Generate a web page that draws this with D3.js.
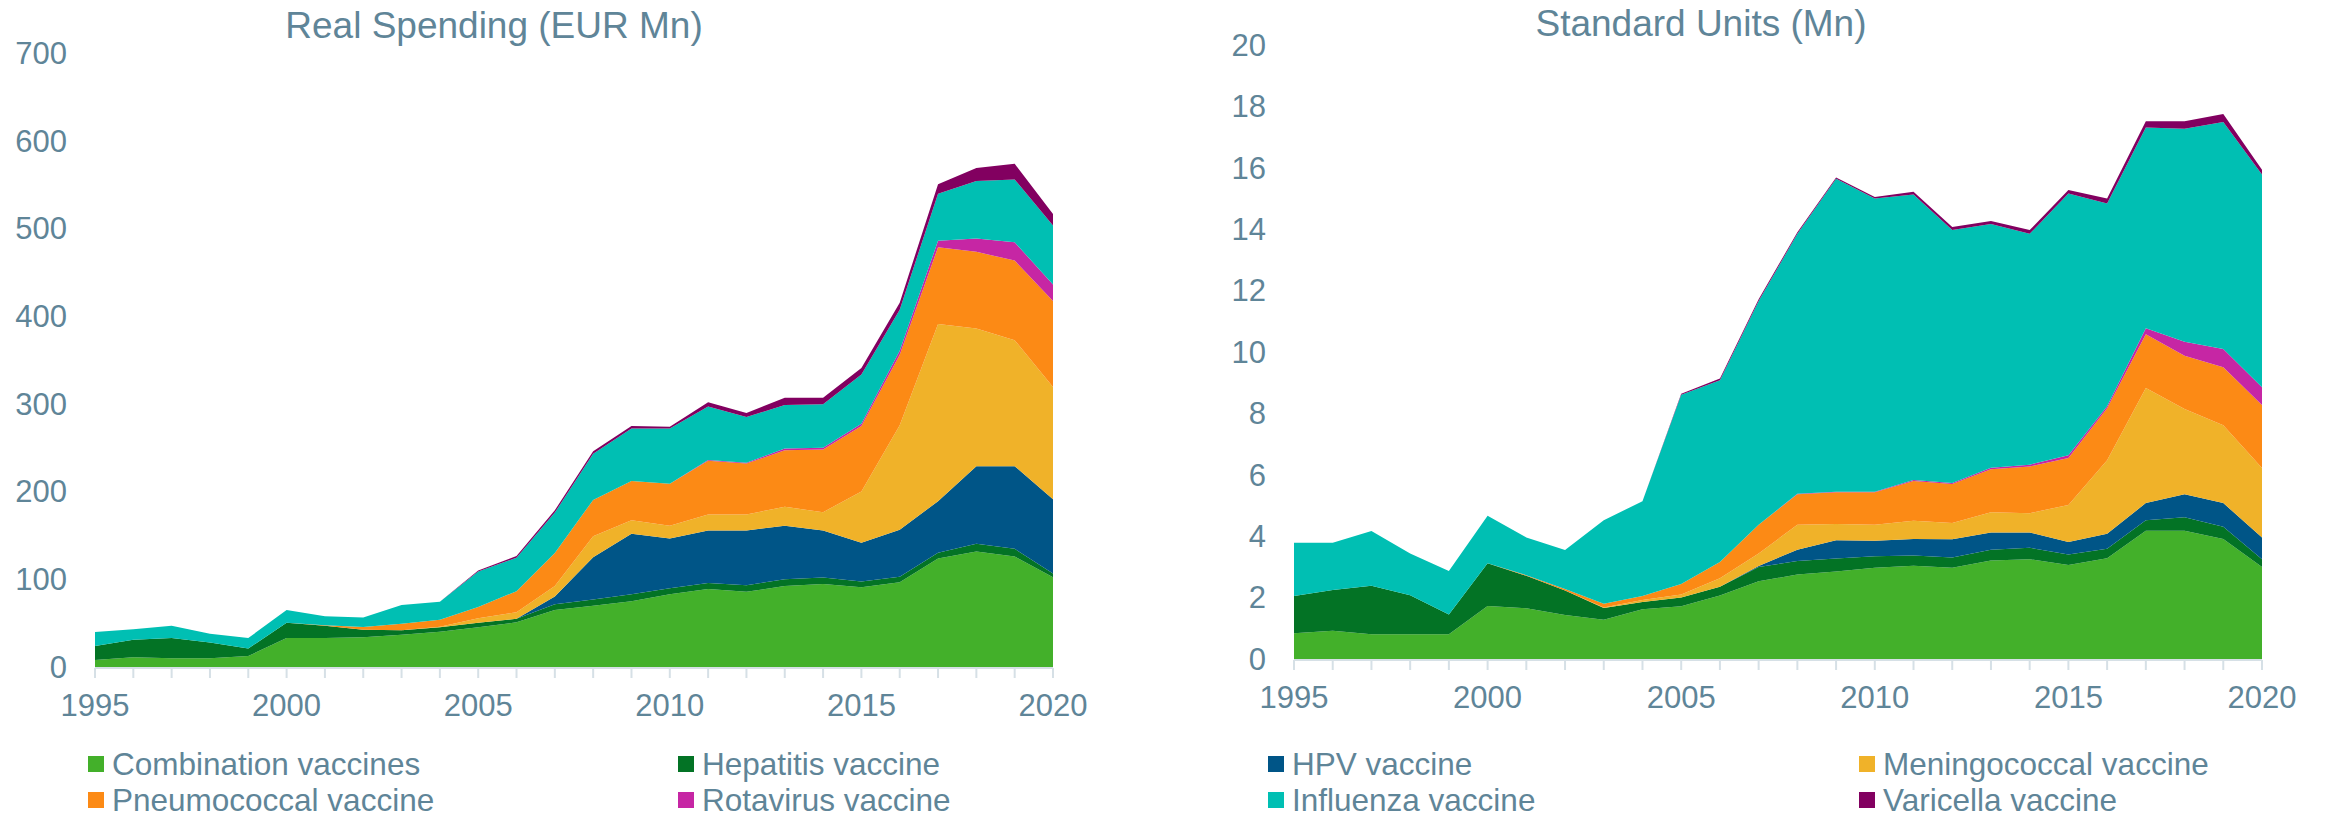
<!DOCTYPE html>
<html>
<head>
<meta charset="utf-8">
<script src="https://cdn.jsdelivr.net/npm/d3@7"></script>
<style>
  html, body { margin: 0; padding: 0; background: #ffffff; }
  svg { display: block; }
  text { font-family: "Liberation Sans", Arial, sans-serif; fill: #5f8598; }
</style>
</head>
<body>
<svg id="chart" width="2328" height="820"></svg>
<script>
// ---------------- DATA ----------------
const years = d3.range(1995, 2021);
const seriesNames = ["Combination vaccines", "Hepatitis vaccine", "HPV vaccine", "Meningococcal vaccine",
                     "Pneumococcal vaccine", "Rotavirus vaccine", "Influenza vaccine", "Varicella vaccine"];
const seriesColors = ["#43b02a", "#037325", "#005587", "#f0b229", "#fc8a15", "#c626a4", "#00bfb3", "#820060"];

// Real Spending (EUR Mn), 1995..2020
const spendCombination = [8, 11, 10, 10, 12.5, 33, 33, 34, 36.7, 40.3, 45.4, 50.9, 64.9, 69.7, 75, 82.8, 88.8, 85.7, 92.4, 94.5, 91, 96.7, 123.7, 131.6, 125.9, 102.4];
const spendHepatitis   = [16, 20, 23, 18, 8.5, 17.5, 14, 8.5, 5.1, 5.1, 5, 4.1, 6.5, 7.3, 7.8, 6.9, 7, 7.5, 7.6, 7.5, 6.6, 6.3, 6.6, 8.8, 8.8, 4.3];
const spendHPV         = [0, 0, 0, 0, 0, 0, 0, 0, 0, 0, 0, 0, 9.1, 48, 69.2, 56.7, 59.8, 62.4, 61, 53.6, 44, 53.5, 58.7, 88.6, 94.3, 84.6];
const spendMeningo     = [0, 0, 0, 0, 0, 0, 0, 0, 0, 0.6, 5.1, 7.5, 11.9, 24, 15.4, 14.6, 18.3, 18.4, 21.6, 20.9, 58.4, 119.1, 202, 157, 143.5, 128];
const spendPneumo      = [0, 0, 0, 0, 0, 0, 0.5, 3, 7.6, 8, 12.8, 24, 37.6, 41.5, 44.6, 48, 61.1, 58, 64.4, 71.5, 74.8, 80.4, 87.6, 87.3, 90.8, 98.1];
const spendRota        = [0, 0, 0, 0, 0, 0, 0, 0, 0, 0, 0, 0, 0, 0, 0, 0, 1, 1, 2, 2, 2.5, 4.6, 7.4, 15.3, 20.9, 18.7];
const spendInfluenza   = [16, 12, 14, 10, 12, 14.5, 10.5, 11, 21.4, 20.4, 40.7, 38, 46, 52.5, 60, 63, 61, 52, 49.7, 49.6, 56.3, 46.8, 53.6, 65.4, 71.6, 67.3];
const spendVaricella   = [0, 0, 0, 0, 0, 0, 0, 0, 0, 0, 1, 2, 2.7, 3, 2.8, 2, 4.8, 4.6, 8.3, 7.4, 7.4, 7.9, 10.9, 14.9, 17.9, 13.1];

// Standard Units (Mn), 1995..2020
const unitsCombination = [0.84, 0.92, 0.81, 0.81, 0.81, 1.73, 1.65, 1.43, 1.28, 1.62, 1.72, 2.07, 2.53, 2.75, 2.85, 2.97, 3.04, 2.97, 3.21, 3.25, 3.06, 3.28, 4.18, 4.18, 3.91, 3.0];
const unitsHepatitis   = [1.21, 1.33, 1.58, 1.27, 0.64, 1.39, 1.06, 0.80, 0.38, 0.24, 0.28, 0.28, 0.47, 0.44, 0.42, 0.38, 0.33, 0.34, 0.35, 0.37, 0.34, 0.31, 0.34, 0.44, 0.40, 0.25];
const unitsHPV         = [0, 0, 0, 0, 0, 0, 0, 0, 0, 0, 0, 0, 0.03, 0.37, 0.60, 0.50, 0.54, 0.59, 0.56, 0.50, 0.41, 0.49, 0.56, 0.75, 0.77, 0.71];
const unitsMeningo     = [0, 0, 0, 0, 0, 0, 0, 0, 0.02, 0.06, 0.10, 0.28, 0.41, 0.81, 0.53, 0.52, 0.59, 0.53, 0.66, 0.63, 1.21, 2.39, 3.75, 2.77, 2.53, 2.26];
const unitsPneumo      = [0, 0, 0, 0, 0, 0, 0.02, 0.05, 0.12, 0.13, 0.34, 0.53, 0.93, 1.0, 1.03, 1.06, 1.30, 1.27, 1.40, 1.52, 1.53, 1.70, 1.75, 1.74, 1.89, 2.05];
const unitsRota        = [0, 0, 0, 0, 0, 0, 0, 0, 0, 0, 0, 0, 0, 0.01, 0.02, 0.02, 0.03, 0.03, 0.05, 0.06, 0.09, 0.06, 0.19, 0.45, 0.60, 0.58];
const unitsInfluenza   = [1.74, 1.54, 1.78, 1.36, 1.42, 1.55, 1.23, 1.27, 2.72, 3.09, 6.17, 5.92, 7.29, 8.47, 10.19, 9.55, 9.30, 8.24, 7.94, 7.52, 8.52, 6.61, 6.54, 6.94, 7.39, 6.93];
const unitsVaricella   = [0, 0, 0, 0, 0, 0, 0, 0, 0, 0, 0.03, 0.06, 0.06, 0.05, 0.04, 0.05, 0.09, 0.10, 0.10, 0.12, 0.12, 0.16, 0.21, 0.25, 0.26, 0.16];

const spendTicks = [0, 100, 200, 300, 400, 500, 600, 700];
const unitsTicks = [0, 2, 4, 6, 8, 10, 12, 14, 16, 18, 20];
const yearTicks = [1995, 2000, 2005, 2010, 2015, 2020];

const spendTitle = "Real Spending (EUR Mn)";
const unitsTitle = "Standard Units (Mn)";

// ---------------- BUILD ----------------
function buildRows(arrays) {
  return years.map((yr, i) => {
    const row = { year: yr };
    seriesNames.forEach((n, k) => { row[n] = arrays[k][i]; });
    return row;
  });
}
const spendRows = buildRows([spendCombination, spendHepatitis, spendHPV, spendMeningo, spendPneumo, spendRota, spendInfluenza, spendVaricella]);
const unitsRows = buildRows([unitsCombination, unitsHepatitis, unitsHPV, unitsMeningo, unitsPneumo, unitsRota, unitsInfluenza, unitsVaricella]);

const svg = d3.select("#chart");
const color = d3.scaleOrdinal().domain(seriesNames).range(seriesColors);

function drawPanel(cfg) {
  const x = d3.scaleLinear().domain([1995, 2020]).range([cfg.x0, cfg.x1]);
  const y = d3.scaleLinear().domain([0, cfg.yMax]).range([cfg.yBottom, cfg.yTop]);
  const stack = d3.stack().keys(seriesNames);
  const layers = stack(cfg.rows);
  const area = d3.area()
    .x(d => x(d.data.year))
    .y0(d => y(d[0]))
    .y1(d => y(d[1]));

  const g = svg.append("g");
  g.selectAll("path.layer").data(layers).enter().append("path")
    .attr("class", "layer")
    .attr("d", area)
    .attr("fill", d => color(d.key));

  // baseline
  g.append("line")
    .attr("x1", cfg.x0).attr("x2", cfg.x1)
    .attr("y1", cfg.yBottom + 1).attr("y2", cfg.yBottom + 1)
    .attr("stroke", "#d6e0e6").attr("stroke-width", 2);

  // year ticks
  g.selectAll("line.tick").data(years).enter().append("line")
    .attr("class", "tick")
    .attr("x1", d => x(d)).attr("x2", d => x(d))
    .attr("y1", cfg.yBottom + 1).attr("y2", cfg.yBottom + 11)
    .attr("stroke", "#d6e0e6").attr("stroke-width", 2);

  // x labels
  g.selectAll("text.xl").data(yearTicks).enter().append("text")
    .attr("class", "xl")
    .attr("x", d => x(d))
    .attr("y", cfg.yBottom + 38)
    .attr("dy", "0.35em")
    .attr("text-anchor", "middle")
    .style("font-size", "31px")
    .text(d => d);

  // y labels
  g.selectAll("text.yl").data(cfg.yTicks).enter().append("text")
    .attr("class", "yl")
    .attr("x", cfg.yLabelX)
    .attr("y", d => y(d))
    .attr("dy", "0.35em")
    .attr("text-anchor", "end")
    .style("font-size", "31px")
    .text(d => d);

  // title
  g.append("text")
    .attr("x", cfg.titleX)
    .attr("y", cfg.titleY)
    .attr("dy", "0.35em")
    .attr("text-anchor", "middle")
    .style("font-size", "37px")
    .text(cfg.title);
}

drawPanel({ rows: spendRows, x0: 95, x1: 1053, yTop: 53, yBottom: 667, yMax: 700,
            yTicks: spendTicks, yLabelX: 67, title: spendTitle, titleX: 494, titleY: 25 });
drawPanel({ rows: unitsRows, x0: 1294, x1: 2262, yTop: 45, yBottom: 659, yMax: 20,
            yTicks: unitsTicks, yLabelX: 1266, title: unitsTitle, titleX: 1701, titleY: 23 });

// legend
const legendCols = [88, 678, 1268, 1859];
const legendRows = [764, 800];
const leg = svg.append("g").selectAll("g").data(seriesNames).enter().append("g")
  .attr("transform", (d, i) => `translate(${legendCols[i % 4]},${legendRows[Math.floor(i / 4)]})`);
leg.append("rect")
  .attr("x", 0).attr("y", -8).attr("width", 16).attr("height", 16)
  .attr("fill", d => color(d));
leg.append("text")
  .attr("x", 24).attr("y", 0).attr("dy", "0.35em")
  .style("font-size", "31.5px")
  .text(d => d);
</script>
</body>
</html>
